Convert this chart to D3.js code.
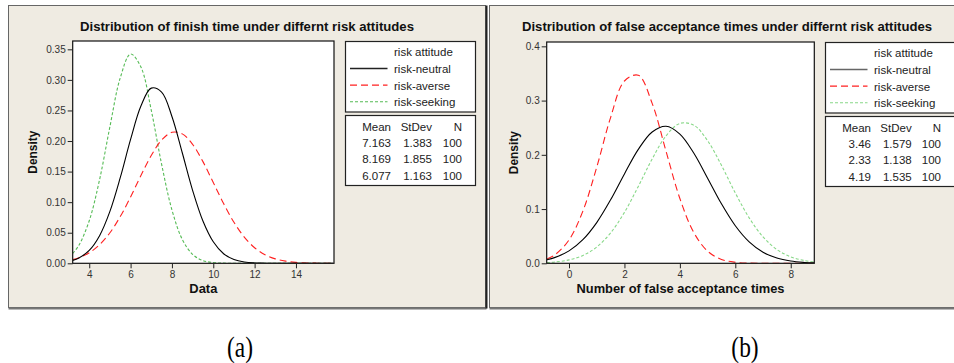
<!DOCTYPE html>
<meta charset="utf-8">
<style>
  body { margin: 0; background: #fff; }
  svg { display: block; font-family: "Liberation Sans", Arial, sans-serif; }
  .tick text { fill: #333; font-size: 10px; }
  .tick line { stroke: #222; }
</style>
<body>
<svg id="chart" width="954" height="363"></svg>
<script src="https://d3js.org/d3.v7.min.js"></script>
<script>
// ---- data ----
const seriesNames = ["risk-neutral", "risk-averse", "risk-seeking"];

const finishTitle = "Distribution of finish time under differnt risk attitudes";
const finishXLabel = "Data";
const finishX = [3.2, 3.5, 4, 4.5, 5, 5.5, 6, 6.5, 7, 7.5, 8, 8.5, 9, 9.5, 10, 10.5,
  11, 11.5, 12, 12.5, 13, 13.5, 14, 14.5, 15, 15.5, 15.8];
const finishNeutral = [0.0048, 0.0087, 0.0211, 0.0452, 0.0849, 0.1400, 0.2026, 0.2572, 0.2865, 0.2800,
  0.2402, 0.1808, 0.1194, 0.0692, 0.0352, 0.0157, 0.0062, 0.0021, 0.0006, 0.0002, 0, 0, 0, 0, 0, 0, 0];
const finishAverse = [0.0060, 0.0091, 0.0172, 0.0304, 0.0500, 0.0764, 0.1086, 0.1435, 0.1763, 0.2015,
  0.2142, 0.2117, 0.1945, 0.1663, 0.1321, 0.0977, 0.0671, 0.0429, 0.0255, 0.0141, 0.0072, 0.0035,
  0.0015, 0.0006, 0.0002, 0.0001, 0.0001];
const finishSeeking = [0.0161, 0.0295, 0.0696, 0.1368, 0.2234, 0.3033, 0.3422, 0.3210, 0.2504, 0.1622,
  0.0874, 0.0391, 0.0146, 0.0045, 0.0012, 0.0003, 0, 0, 0, 0, 0, 0, 0, 0, 0, 0, 0];
const finishMean = ["7.163", "8.169", "6.077"];
const finishStDev = ["1.383", "1.855", "1.163"];
const finishN = ["100", "100", "100"];
const finishXTicks = [4, 6, 8, 10, 12, 14];
const finishYTicks = [0, 0.05, 0.10, 0.15, 0.20, 0.25, 0.30, 0.35];

const falseTitle = "Distribution of false acceptance times under differnt risk attitudes";
const falseXLabel = "Number of false acceptance times";
const falseX = [-0.8, -0.5, 0, 0.5, 1, 1.5, 2, 2.5, 3, 3.5, 4, 4.5, 5, 5.5, 6, 6.5, 7, 7.5, 8, 8.5, 8.85];
const falseNeutral = [0.0066, 0.0109, 0.0229, 0.0436, 0.0751, 0.1170, 0.1648, 0.2100, 0.2421, 0.2526,
  0.2383, 0.2034, 0.1570, 0.1097, 0.0693, 0.0396, 0.0205, 0.0096, 0.0041, 0.0016, 0.0007];
const falseAverse = [0.0080, 0.0159, 0.0431, 0.0962, 0.1771, 0.2687, 0.3361, 0.3467, 0.2948, 0.2067,
  0.1194, 0.0569, 0.0224, 0.0072, 0.0019, 0.0004, 0.0001, 0, 0, 0, 0];
const falseSeeking = [0.0013, 0.0024, 0.0063, 0.0145, 0.0300, 0.0560, 0.0939, 0.1418, 0.1924, 0.2349,
  0.2579, 0.2547, 0.2261, 0.1806, 0.1297, 0.0838, 0.0487, 0.0254, 0.0119, 0.0050, 0.0026];
const falseMean = ["3.46", "2.33", "4.19"];
const falseStDev = ["1.579", "1.138", "1.535"];
const falseN = ["100", "100", "100"];
const falseXTicks = [0, 2, 4, 6, 8];
const falseYTicks = [0, 0.1, 0.2, 0.3, 0.4];

const captions = ["(a)", "(b)"];

// ---- layout ----
const svg = d3.select("#chart");
const bg = "#efebe2";

const panels = [
  {
    frame: [8.5, 5.5, 477, 302], plot: [72.7, 41, 334, 263.3],
    xDomain: [3.2, 15.84], yDomain: [0, 0.3636],
    title: finishTitle, titleX: 247, titleW: 334, xLabel: finishXLabel, xLabelW: 28,
    xs: finishX, ys: [finishNeutral, finishAverse, finishSeeking],
    xTicks: finishXTicks, yTicks: finishYTicks, yFmt: d3.format(".2f"),
    mean: finishMean, sd: finishStDev, n: finishN,
    legendX: 345, colX: [391, 432, 462],
    colors: ["#000", "#ff2020", "#55bb55"], legendCol0: "#222",
    caption: captions[0], captionX: 240
  },
  {
    frame: [489.5, 5.5, 480, 302], plot: [546.7, 42, 814.3, 263.3],
    xDomain: [-0.805, 8.85], yDomain: [0, 0.408],
    title: falseTitle, titleX: 727, titleW: 410, xLabel: falseXLabel, xLabelW: 208,
    xs: falseX, ys: [falseNeutral, falseAverse, falseSeeking],
    xTicks: falseXTicks, yTicks: falseYTicks, yFmt: d3.format(".1f"),
    mean: falseMean, sd: falseStDev, n: falseN,
    legendX: 825, colX: [871, 911.7, 941],
    colors: ["#000", "#ff2020", "#88d888"], legendCol0: "#666",
    caption: captions[1], captionX: 745
  }
];

const dashes = [null, "7,4", "3,2"];

panels.forEach((p, pi) => {
  const g = svg.append("g");
  const [fx, fy, fw, fh] = p.frame;

  // panel background with shadowed right/bottom edges
  g.append("rect").attr("x", fx).attr("y", fy).attr("width", fw).attr("height", fh)
    .attr("fill", bg).attr("stroke", "#666").attr("stroke-width", 1);
  g.append("line").attr("x1", fx).attr("x2", fx + fw + 1).attr("y1", fy + fh + 1).attr("y2", fy + fh + 1)
    .attr("stroke", "#777").attr("stroke-width", 2);
  if (pi === 0) {
    g.append("line").attr("x1", fx + fw + 1).attr("x2", fx + fw + 1).attr("y1", fy).attr("y2", fy + fh + 1)
      .attr("stroke", "#222").attr("stroke-width", 2);
  }

  const [x0, y0, x1, y1] = p.plot;
  const x = d3.scaleLinear().domain(p.xDomain).range([x0, x1]);
  const y = d3.scaleLinear().domain(p.yDomain).range([y1, y0]);

  g.append("rect").attr("x", x0).attr("y", y0).attr("width", x1 - x0).attr("height", y1 - y0)
    .attr("fill", "#fff");

  const clipId = "clip" + pi;
  g.append("clipPath").attr("id", clipId).append("rect")
    .attr("x", x0).attr("y", y0).attr("width", x1 - x0).attr("height", y1 - y0);

  const line = d3.line().curve(d3.curveCatmullRom.alpha(0.5))
    .x(d => x(d[0])).y(d => y(d[1]));

  // draw order: seeking, averse, neutral on top
  [2, 1, 0].forEach(si => {
    g.append("path")
      .datum(p.xs.map((v, i) => [v, p.ys[si][i]]))
      .attr("clip-path", `url(#${clipId})`)
      .attr("d", line)
      .attr("fill", "none")
      .attr("stroke", p.colors[si])
      .attr("stroke-width", 1.1)
      .attr("stroke-dasharray", dashes[si]);
  });

  g.append("rect").attr("x", x0).attr("y", y0).attr("width", x1 - x0).attr("height", y1 - y0)
    .attr("fill", "none").attr("stroke", "#111").attr("stroke-width", 1.2);

  const xAxis = g.append("g").attr("transform", `translate(0,${y1})`)
    .call(d3.axisBottom(x).tickValues(p.xTicks).tickSize(5).tickPadding(3));
  xAxis.select(".domain").remove();
  const yAxis = g.append("g").attr("transform", `translate(${x0},0)`)
    .call(d3.axisLeft(y).tickValues(p.yTicks).tickFormat(p.yFmt).tickSize(5).tickPadding(2));
  yAxis.select(".domain").remove();
  g.selectAll(".tick text").attr("font-family", null).attr("font-size", null);

  // titles
  g.append("text").attr("x", p.titleX).attr("y", 30.5).attr("text-anchor", "middle")
    .attr("font-weight", "bold").attr("font-size", 12).attr("fill", "#111")
    .attr("textLength", p.titleW).attr("lengthAdjust", "spacingAndGlyphs")
    .text(p.title);
  g.append("text").attr("x", (x0 + x1) / 2).attr("y", 293).attr("text-anchor", "middle")
    .attr("font-weight", "bold").attr("font-size", 12.5).attr("fill", "#111")
    .attr("textLength", p.xLabelW).attr("lengthAdjust", "spacingAndGlyphs")
    .text(p.xLabel);
  g.append("text").attr("transform", `translate(${fx + 28.5},${(y0 + y1) / 2}) rotate(-90)`)
    .attr("text-anchor", "middle").attr("font-weight", "bold").attr("font-size", 12.5)
    .attr("fill", "#111").attr("textLength", 43).attr("lengthAdjust", "spacingAndGlyphs")
    .text("Density");

  // legend box
  const lx = p.legendX;
  const lw = pi === 0 ? 130 : 140;
  g.append("rect").attr("x", lx + 0.5).attr("y", y0 + 0.5).attr("width", lw).attr("height", 70.5)
    .attr("fill", "#fff").attr("stroke", "#222").attr("stroke-width", 1.2);
  g.append("text").attr("x", lx + 49).attr("y", y0 + 15).attr("font-size", 11.5).attr("fill", "#222")
    .text("risk attitude");
  seriesNames.forEach((name, si) => {
    const yy = y0 + 32 + si * 16.6;
    g.append("line").attr("x1", lx + 5).attr("x2", lx + 42.5).attr("y1", yy - 4.5).attr("y2", yy - 4.5)
      .attr("stroke", si === 0 ? p.legendCol0 : p.colors[si])
      .attr("stroke-width", si === 0 ? 1.6 : 1.1)
      .attr("stroke-dasharray", dashes[si]);
    g.append("text").attr("x", lx + 49).attr("y", yy).attr("font-size", 11.5).attr("fill", "#222")
      .text(name);
  });

  // stats box
  const sy = y0 + 74;
  g.append("rect").attr("x", lx + 0.5).attr("y", sy + 0.5).attr("width", lw).attr("height", 70)
    .attr("fill", "#fff").attr("stroke", "#222").attr("stroke-width", 1.2);
  const header = ["Mean", "StDev", "N"];
  header.forEach((h, ci) => {
    g.append("text").attr("x", p.colX[ci]).attr("y", sy + 16).attr("text-anchor", "end")
      .attr("font-size", 11.5).attr("fill", "#222").text(h);
  });
  [p.mean, p.sd, p.n].forEach((col, ci) => {
    col.forEach((v, ri) => {
      g.append("text").attr("x", p.colX[ci]).attr("y", sy + 32 + ri * 16.3).attr("text-anchor", "end")
        .attr("font-size", 11.5).attr("fill", "#222").text(v);
    });
  });

  // caption (slightly tall, narrow serif as in the scanned figure)
  svg.append("text").attr("transform", `translate(${p.captionX},357) scale(0.9,1.15)`)
    .attr("text-anchor", "middle")
    .attr("font-family", "Liberation Serif, Times New Roman, serif").attr("font-size", 26)
    .attr("fill", "#000").text(p.caption);
});
</script>
</body>
